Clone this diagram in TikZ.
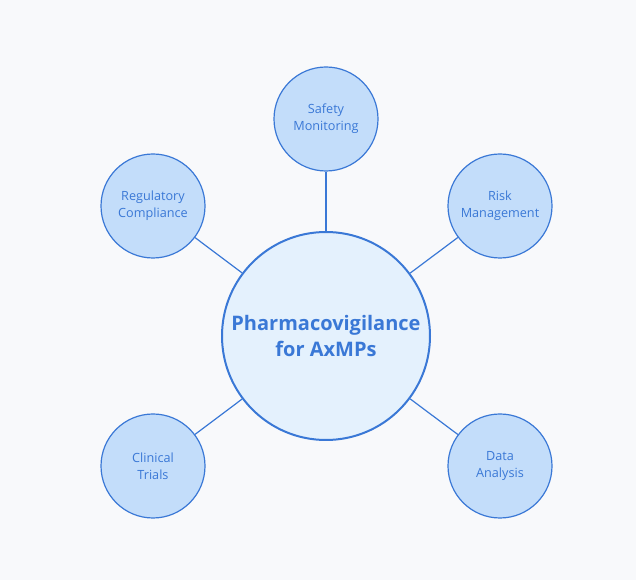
\documentclass[tikz,border=0pt]{standalone}
\usepackage{fontspec}
\setmainfont{Open Sans}
\usetikzlibrary{arrows.meta}
\definecolor{pvBlue}{HTML}{3A78D6}
\definecolor{pvHub}{HTML}{E4F1FD}
\definecolor{pvLeaf}{HTML}{C3DDFA}
\definecolor{pvBack}{HTML}{F8F9FB}
\tikzset{
    base/.style={
        align=center,
        text=pvBlue
    },
    hub/.style={
        base,
        circle,
        draw=pvBlue,
        line width=1.5pt,
        fill=pvHub,
        minimum size=156pt,
        font=\fontsize{15}{19}\selectfont\bfseries
    },
    leaf/.style={
        base,
        circle,
        draw=pvBlue,
        line width=0.9pt,
        fill=pvLeaf,
        minimum size=78pt,
        inner sep=0pt,
        font=\fontsize{9.5}{13}\selectfont
    },
    link/.style={
        line width=0.9pt,
        color=pvBlue
    }
}
\begin{document}
\begin{tikzpicture}[x=0.75pt, y=-0.75pt]
    % Background
    \fill[pvBack] (0,0) rectangle (636,580);
    \useasboundingbox (0,0) rectangle (636,580);

    % Nodes
    \node[hub] (pv) at (326,336) {Pharmacovigilance\\for AxMPs};
    \node[leaf] (safety) at (326,119) {Safety\\Monitoring};
    \node[leaf] (regul) at (153,206) {Regulatory\\Compliance};
    \node[leaf] (risk) at (500,206) {Risk\\Management};
    \node[leaf] (trials) at (153,466) {Clinical\\Trials};
    \node[leaf] (data) at (500,466) {Data\\Analysis};

    % Links
    \foreach \n in {safety, regul, risk, trials, data}
        \draw[link] (\n) -- (pv);
\end{tikzpicture}
\end{document}
